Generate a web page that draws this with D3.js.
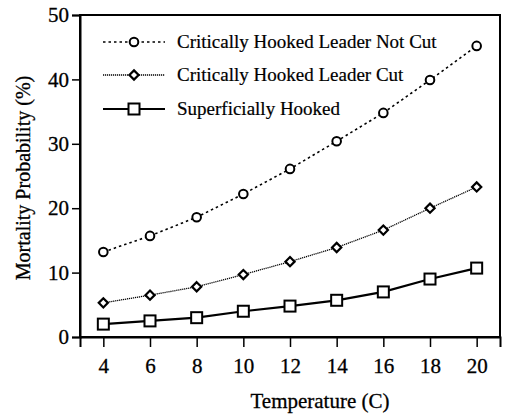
<!DOCTYPE html>
<html>
<head>
<meta charset="utf-8">
<script src="https://cdn.jsdelivr.net/npm/d3@7"></script>
<style>
  body { margin: 0; background: #fff; }
  svg text { font-family: "Liberation Serif", "Times New Roman", "DejaVu Serif", serif; }
</style>
</head>
<body>
<div id="chart"></div>
<script>
var temps = [4, 6, 8, 10, 12, 14, 16, 18, 20];
var notCut = [13.2, 15.7, 18.6, 22.2, 26.1, 30.4, 34.8, 39.9, 45.2];
var cut = [5.3, 6.5, 7.8, 9.7, 11.7, 13.9, 16.6, 20.0, 23.3];
var superficial = [2.0, 2.5, 3.0, 4.0, 4.8, 5.7, 7.0, 9.0, 10.7];
var seriesNames = ["Critically Hooked Leader Not Cut", "Critically Hooked Leader Cut", "Superficially Hooked"];
var yTicks = [0, 10, 20, 30, 40, 50];

var width = 510, height = 415;
var margin = { left: 80, top: 15, right: 10, bottom: 78 };
var serif = "Liberation Serif";

var svg = d3.select("#chart").append("svg")
    .attr("width", width)
    .attr("height", height);

var x = d3.scaleLinear().domain([3, 21]).range([margin.left, width - margin.right]);
var y = d3.scaleLinear().domain([0, 50]).range([height - margin.bottom, margin.top]);

// frame
svg.append("rect")
    .attr("x", x(3)).attr("y", y(50))
    .attr("width", x(21) - x(3)).attr("height", y(0) - y(50))
    .attr("fill", "none").attr("stroke", "#000").attr("stroke-width", 2);

var xAxis = svg.append("g")
    .attr("transform", "translate(0," + y(0) + ")")
    .call(d3.axisBottom(x).tickValues(temps).tickSize(10).tickPadding(11));
var yAxis = svg.append("g")
    .attr("transform", "translate(" + x(3) + ",0)")
    .call(d3.axisLeft(y).tickValues(yTicks).tickSize(8).tickPadding(3));

[xAxis, yAxis].forEach(function (g) {
    g.attr("font-family", serif).attr("font-size", 21);
    g.select(".domain").attr("stroke-width", 2);
    g.selectAll(".tick line").attr("stroke-width", 1.5);
    g.selectAll(".tick text").attr("fill", "#000").attr("stroke", "#000").attr("stroke-width", 0.3);
});

svg.append("text")
    .attr("x", 320).attr("y", 408)
    .attr("text-anchor", "middle")
    .attr("font-family", serif)
    .attr("font-size", 21)
    .attr("stroke", "#000").attr("stroke-width", 0.3)
    .text("Temperature (C)");

svg.append("text")
    .attr("transform", "translate(30,178) rotate(-90)")
    .attr("text-anchor", "middle")
    .attr("font-family", serif)
    .attr("font-size", 20)
    .attr("stroke", "#000").attr("stroke-width", 0.3)
    .text("Mortality Probability (%)");

var series = [
    { name: seriesNames[0], values: notCut, dash: "2.5,3", width: 1.6, shape: "circle" },
    { name: seriesNames[1], values: cut, dash: "1.2,0.8", width: 1.3, shape: "diamond" },
    { name: seriesNames[2], values: superficial, dash: null, width: 2.2, shape: "square" }
];

var line = d3.line()
    .x(function (d) { return x(d.t); })
    .y(function (d) { return y(d.v); });

function drawMarker(g, shape, cx, cy) {
    if (shape === "circle") {
        g.append("circle").attr("cx", cx).attr("cy", cy).attr("r", 4.3)
            .attr("fill", "#fff").attr("stroke", "#000").attr("stroke-width", 2);
    } else if (shape === "diamond") {
        var s = 4.6;
        g.append("path")
            .attr("d", "M" + cx + "," + (cy - s) + "L" + (cx + s) + "," + cy + "L" + cx + "," + (cy + s) + "L" + (cx - s) + "," + cy + "Z")
            .attr("fill", "#fff").attr("stroke", "#000").attr("stroke-width", 2.2);
    } else {
        g.append("rect").attr("x", cx - 5.5).attr("y", cy - 5.5).attr("width", 11).attr("height", 11)
            .attr("fill", "#fff").attr("stroke", "#000").attr("stroke-width", 2);
    }
}

series.forEach(function (s) {
    var pts = temps.map(function (t, i) { return { t: t, v: s.values[i] }; });
    svg.append("path")
        .datum(pts)
        .attr("d", line)
        .attr("fill", "none")
        .attr("stroke", "#000")
        .attr("stroke-width", s.width)
        .attr("stroke-dasharray", s.dash);
    var mg = svg.append("g");
    pts.forEach(function (p) { drawMarker(mg, s.shape, x(p.t), y(p.v)); });
});

// legend
var legendY = [42, 75, 109];
series.forEach(function (s, i) {
    var g = svg.append("g");
    g.append("line")
        .attr("x1", 103).attr("x2", 165)
        .attr("y1", legendY[i]).attr("y2", legendY[i])
        .attr("stroke", "#000")
        .attr("stroke-width", s.width)
        .attr("stroke-dasharray", s.dash);
    drawMarker(g, s.shape, 134, legendY[i]);
    g.append("text")
        .attr("x", 177).attr("y", legendY[i] + 6)
        .attr("font-family", serif)
        .attr("font-size", 19)
        .attr("stroke", "#000").attr("stroke-width", 0.2)
        .text(s.name);
});
</script>
</body>
</html>
